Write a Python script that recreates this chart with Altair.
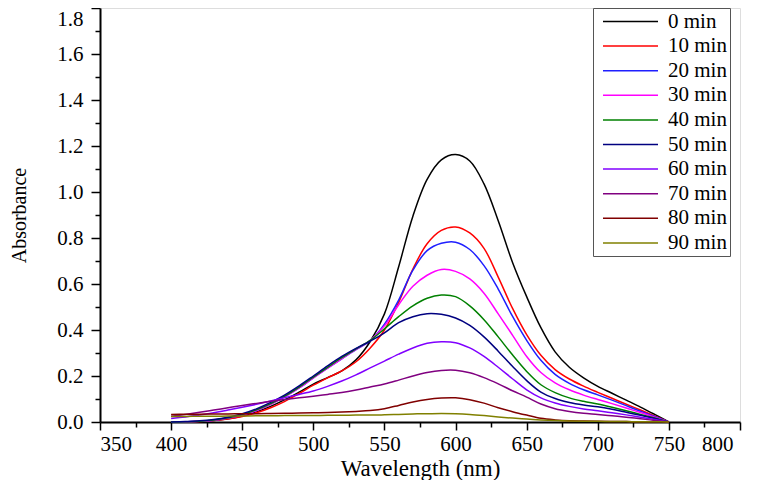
import altair as alt
import pandas as pd

wavelengths = list(range(400, 751, 10))
series_names = ["0 min", "10 min", "20 min", "30 min", "40 min",
                "50 min", "60 min", "70 min", "80 min", "90 min"]
colors = ["#000000", "#FF0000", "#1F1FFF", "#FF00FF", "#008000",
          "#000080", "#8000FF", "#800080", "#800000", "#808000"]

a0 = [0.000, 0.000, 0.002, 0.006, 0.014, 0.026, 0.044, 0.068, 0.097, 0.130, 0.165, 0.193,
      0.222, 0.270, 0.350, 0.470, 0.675, 0.895, 1.055, 1.140, 1.163, 1.135, 1.035, 0.875,
      0.695, 0.545, 0.410, 0.305, 0.238, 0.192, 0.155, 0.125, 0.095, 0.065, 0.033, 0.000]
a10 = [0.000, 0.000, 0.002, 0.006, 0.013, 0.024, 0.040, 0.062, 0.090, 0.124, 0.160, 0.192,
       0.222, 0.262, 0.322, 0.400, 0.520, 0.665, 0.775, 0.833, 0.848, 0.822, 0.755, 0.630,
       0.495, 0.380, 0.290, 0.228, 0.187, 0.156, 0.129, 0.103, 0.077, 0.052, 0.026, 0.000]
a20 = [0.000, 0.001, 0.003, 0.008, 0.017, 0.030, 0.050, 0.077, 0.110, 0.148, 0.192, 0.234,
       0.275, 0.315, 0.352, 0.425, 0.530, 0.660, 0.745, 0.777, 0.782, 0.750, 0.680, 0.578,
       0.460, 0.355, 0.268, 0.207, 0.168, 0.140, 0.118, 0.095, 0.071, 0.047, 0.024, 0.000]
a30 = [0.000, 0.001, 0.003, 0.008, 0.017, 0.030, 0.050, 0.077, 0.110, 0.148, 0.192, 0.234,
       0.276, 0.316, 0.355, 0.418, 0.510, 0.590, 0.638, 0.663, 0.655, 0.622, 0.560, 0.470,
       0.378, 0.285, 0.215, 0.170, 0.140, 0.117, 0.098, 0.080, 0.061, 0.041, 0.021, 0.000]
a40 = [0.000, 0.001, 0.003, 0.009, 0.018, 0.032, 0.053, 0.080, 0.113, 0.152, 0.195, 0.238,
       0.280, 0.318, 0.355, 0.405, 0.458, 0.505, 0.538, 0.552, 0.545, 0.505, 0.445, 0.370,
       0.292, 0.220, 0.162, 0.128, 0.105, 0.090, 0.078, 0.064, 0.049, 0.033, 0.017, 0.000]
a50 = [0.000, 0.002, 0.005, 0.011, 0.021, 0.036, 0.057, 0.085, 0.118, 0.157, 0.200, 0.244,
       0.285, 0.320, 0.352, 0.388, 0.432, 0.458, 0.471, 0.468, 0.452, 0.420, 0.370, 0.308,
       0.242, 0.180, 0.130, 0.102, 0.085, 0.074, 0.066, 0.055, 0.042, 0.029, 0.015, 0.000]
a60 = [0.015, 0.022, 0.030, 0.040, 0.052, 0.064, 0.077, 0.091, 0.106, 0.120, 0.135, 0.155,
       0.178, 0.205, 0.235, 0.265, 0.295, 0.322, 0.342, 0.349, 0.345, 0.322, 0.285, 0.238,
       0.188, 0.140, 0.105, 0.083, 0.068, 0.057, 0.049, 0.040, 0.031, 0.021, 0.011, 0.000]
a70 = [0.025, 0.033, 0.042, 0.052, 0.062, 0.072, 0.081, 0.090, 0.098, 0.105, 0.112, 0.120,
       0.128, 0.139, 0.152, 0.165, 0.182, 0.200, 0.215, 0.224, 0.225, 0.214, 0.193, 0.166,
       0.136, 0.108, 0.078, 0.058, 0.046, 0.038, 0.033, 0.027, 0.021, 0.014, 0.007, 0.000]
a80 = [0.033, 0.034, 0.034, 0.035, 0.035, 0.036, 0.036, 0.037, 0.038, 0.039, 0.040, 0.041,
       0.043, 0.046, 0.050, 0.058, 0.072, 0.087, 0.098, 0.104, 0.105, 0.097, 0.082, 0.062,
       0.045, 0.030, 0.016, 0.009, 0.005, 0.004, 0.003, 0.002, 0.002, 0.001, 0.001, 0.000]
a90 = [0.024, 0.024, 0.025, 0.025, 0.026, 0.026, 0.027, 0.027, 0.028, 0.028, 0.028, 0.029,
       0.029, 0.030, 0.030, 0.031, 0.033, 0.035, 0.036, 0.037, 0.036, 0.033, 0.028, 0.022,
       0.017, 0.013, 0.009, 0.006, 0.004, 0.003, 0.003, 0.002, 0.002, 0.001, 0.001, 0.000]

all_series = [a0, a10, a20, a30, a40, a50, a60, a70, a80, a90]

x_ticks = list(range(350, 801, 25))
y_ticks = [round(i * 0.1, 1) for i in range(19)]

rows = []
for order, (name, vals) in enumerate(zip(series_names, all_series)):
    for w, a in zip(wavelengths, vals):
        rows.append({"Wavelength": w, "Absorbance": a, "Series": name, "order": order})
df = pd.DataFrame(rows)

FONT = "Liberation Serif"

x_axis = alt.Axis(
    values=x_ticks,
    title="Wavelength (nm)",
    labelExpr="datum.value % 50 == 0 ? datum.label : ''",
    tickSize={"condition": {"test": "datum.value % 50 != 0", "value": 5}, "value": 8},
    labelOffset={"condition": {"test": "datum.value >= 800", "value": -7}, "value": 0},
    labelPadding=3,
    labelFont=FONT, labelFontSize=21, labelColor="black",
    titleFont=FONT, titleFontSize=23, titleFontWeight="normal", titleColor="black",
    titleX=320, titleY=53, titleBaseline="alphabetic", titleAlign="center",
    domainColor="black", domainWidth=2, tickColor="black", tickWidth=1.5,
    grid=False,
)
y_axis = alt.Axis(
    values=y_ticks,
    title="Absorbance",
    labelExpr="round(datum.value * 10) % 2 == 0 ? format(datum.value, '.1f') : ''",
    tickSize={"condition": {"test": "round(datum.value * 10) % 2 == 1", "value": 5}, "value": 9},
    labelBaseline={"condition": {"test": "datum.value >= 1.75", "value": "top"}, "value": "middle"},
    labelPadding=8,
    labelFont=FONT, labelFontSize=21, labelColor="black",
    titleFont=FONT, titleFontSize=20, titleFontWeight="normal", titleColor="black",
    titleX=-75, titleY=207, titleBaseline="alphabetic", titleAlign="center", titleAngle=270,
    domainColor="black", domainWidth=2, tickColor="black", tickWidth=1.5,
    grid=False,
)

legend = alt.Legend(
    orient="none", legendX=493, legendY=0, title=None,
    symbolType="M-5,0H5", symbolSize=121, symbolStrokeWidth=1.5,
    labelFont=FONT, labelFontSize=21, labelColor="black",
    padding=3, rowPadding=2.6, symbolOffset=24, labelOffset=27,
    strokeColor="#555555", fillColor="white",
)

chart = alt.Chart(df).mark_line(strokeWidth=1.5, interpolate="catmull-rom").encode(
    x=alt.X("Wavelength:Q", scale=alt.Scale(domain=[350, 800], nice=False, zero=False), axis=x_axis),
    y=alt.Y("Absorbance:Q", scale=alt.Scale(domain=[0, 1.8], nice=False), axis=y_axis),
    color=alt.Color("Series:N", scale=alt.Scale(domain=series_names, range=colors), legend=legend),
    order=alt.Order("order:Q"),
).properties(
    width=640, height=414,
    padding={"left": 92, "top": 0, "right": 9, "bottom": 58},
    autosize=alt.AutoSizeParams(type="none"),
).configure_view(
    stroke="black", strokeWidth=1.5,
).configure(background="white")

chart.save("out.html", embed_options={"renderer": "svg", "actions": False})
